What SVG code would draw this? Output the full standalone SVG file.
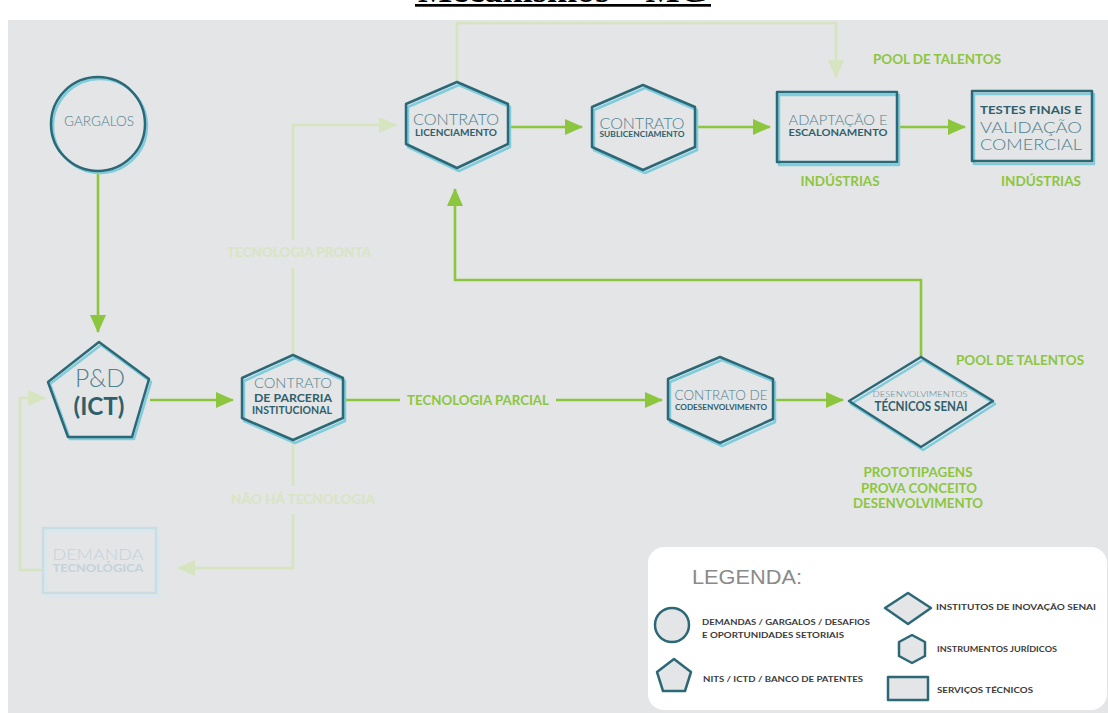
<svg xmlns="http://www.w3.org/2000/svg" width="1108" height="713" viewBox="0 0 1108 713">
<style>
.bg{fill:#e4e5e7}
.sh{fill:none;stroke:#7fcddc;stroke-width:2.5;stroke-linejoin:round}
.nd{fill:none;stroke:#2d6877;stroke-width:2.5;stroke-linejoin:round}
.fd{fill:none;stroke:#c9dde3;stroke-width:2.5}
.fds{fill:none;stroke:#d9e8ee;stroke-width:3}
.lt{font-family:Lato,"Liberation Sans",sans-serif;font-weight:300;fill:#4f818c}
.bd{font-family:Lato,"Liberation Sans",sans-serif;font-weight:700;fill:#2f5f6b}
.gr{font-family:Lato,"Liberation Sans",sans-serif;font-weight:700;fill:#8cc63f}
.gf{font-family:Lato,"Liberation Sans",sans-serif;font-weight:700;fill:#d9e4c3}
.flt{font-family:Lato,"Liberation Sans",sans-serif;font-weight:300;fill:#c3d3d9}
.fbd{font-family:Lato,"Liberation Sans",sans-serif;font-weight:700;fill:#c3d3d9}
.lg{font-family:Lato,"Liberation Sans",sans-serif;font-weight:700;fill:#3b3b3b;font-size:8px}
.c{stroke:#8cc63f;stroke-width:2.6;fill:none}
.cf{stroke:#d6e4bf;stroke-width:2.6;fill:none}
.ls{fill:#e4e5e7;stroke:#2d6877;stroke-width:2.5;stroke-linejoin:round}
</style>
<defs>
<marker id="ah" markerUnits="userSpaceOnUse" markerWidth="18" markerHeight="16" refX="17" refY="8" orient="auto">
<path d="M0,0 L18,8 L0,16 z" fill="#8cc63f"/>
</marker>
<marker id="ahf" markerUnits="userSpaceOnUse" markerWidth="18" markerHeight="16" refX="17" refY="8" orient="auto">
<path d="M0,0 L18,8 L0,16 z" fill="#d6e4bf"/>
</marker>
</defs>
<rect x="0" y="0" width="1108" height="713" fill="#ffffff"/>
<rect class="bg" x="8" y="20" width="1100" height="693"/>
<g id="title">
<text x="563" y="2" text-anchor="middle" font-family="Liberation Serif, serif" font-weight="700" font-size="34" fill="#000" textLength="290" lengthAdjust="spacingAndGlyphs">Mecanismos – MG</text>
<rect x="415" y="4" width="296" height="2.7" fill="#000"/>
</g>
<g id="connectors">
<path class="cf" d="M457,82 V23 H836 V77" marker-end="url(#ahf)"/>
<path class="cf" d="M293,355 V268 M293,240 V125 H396" marker-end="url(#ahf)"/>
<path class="cf" d="M293,440 V486 M293,514 V568 H178" marker-end="url(#ahf)"/>
<path class="cf" d="M43,570 H20 V398 H45" marker-end="url(#ahf)"/>
<path class="c" d="M98,171 V332" marker-end="url(#ah)"/>
<path class="c" d="M150,400 H233" marker-end="url(#ah)"/>
<path class="c" d="M343,400 H400"/>
<path class="c" d="M556,400 H662" marker-end="url(#ah)"/>
<path class="c" d="M773,400 H843" marker-end="url(#ah)"/>
<path class="c" d="M921,357 V280 H455 V189" marker-end="url(#ah)"/>
<path class="c" d="M508,127 H582" marker-end="url(#ah)"/>
<path class="c" d="M695,127 H770" marker-end="url(#ah)"/>
<path class="c" d="M897,127 H965" marker-end="url(#ah)"/>
</g>
<g id="labels">
<text class="gr" x="937" y="64" text-anchor="middle" font-size="14" textLength="128" lengthAdjust="spacingAndGlyphs">POOL DE TALENTOS</text>
<text class="gr" x="840" y="186" text-anchor="middle" font-size="14" textLength="79" lengthAdjust="spacingAndGlyphs">INDÚSTRIAS</text>
<text class="gr" x="1041" y="186" text-anchor="middle" font-size="14" textLength="80" lengthAdjust="spacingAndGlyphs">INDÚSTRIAS</text>
<text class="gr" x="1020" y="365" text-anchor="middle" font-size="14" textLength="128" lengthAdjust="spacingAndGlyphs">POOL DE TALENTOS</text>
<text class="gr" x="918" y="477" text-anchor="middle" font-size="14" textLength="109" lengthAdjust="spacingAndGlyphs">PROTOTIPAGENS</text>
<text class="gr" x="919" y="493" text-anchor="middle" font-size="14" textLength="116" lengthAdjust="spacingAndGlyphs">PROVA CONCEITO</text>
<text class="gr" x="918" y="508" text-anchor="middle" font-size="14" textLength="130" lengthAdjust="spacingAndGlyphs">DESENVOLVIMENTO</text>
<text class="gr" x="478" y="405" text-anchor="middle" font-size="13" textLength="142" lengthAdjust="spacingAndGlyphs">TECNOLOGIA PARCIAL</text>
<text class="gf" x="299" y="257" text-anchor="middle" font-size="13" textLength="144" lengthAdjust="spacingAndGlyphs">TECNOLOGIA PRONTA</text>
<text class="gf" x="303" y="504" text-anchor="middle" font-size="13" textLength="144" lengthAdjust="spacingAndGlyphs">NÃO HÁ TECNOLOGIA</text>
</g>
<g id="gargalos">
<circle class="sh" cx="100" cy="126" r="47"/>
<circle class="nd" cx="98" cy="124" r="47"/>
<text class="lt" x="99" y="126" text-anchor="middle" font-size="13" font-weight="400" textLength="70" lengthAdjust="spacingAndGlyphs">GARGALOS</text>
</g>
<g id="pd">
<polygon class="sh" points="101,345 151,382 134,439 70,439 50,384"/>
<polygon class="nd" points="99,342 149,379 132,437 68,437 48,382"/>
<text class="lt" x="100" y="387" text-anchor="middle" font-size="25" textLength="50" lengthAdjust="spacingAndGlyphs">P&amp;D</text>
<text class="bd" x="99" y="415" text-anchor="middle" font-size="24" textLength="51" lengthAdjust="spacingAndGlyphs">(ICT)</text>
</g>
<g id="parceria">
<polygon class="sh" points="295,358 345,381 345,421 295,443 244,421 244,381"/>
<polygon class="nd" points="293,355 343,378 343,418 293,440 242,418 242,378"/>
<text class="lt" x="293" y="388" text-anchor="middle" font-size="14" textLength="78" lengthAdjust="spacingAndGlyphs">CONTRATO</text>
<text class="bd" x="293" y="402" text-anchor="middle" font-size="12" textLength="78" lengthAdjust="spacingAndGlyphs">DE PARCERIA</text>
<text class="bd" x="292" y="414" text-anchor="middle" font-size="11" textLength="80" lengthAdjust="spacingAndGlyphs">INSTITUCIONAL</text>
</g>
<g id="licenciamento">
<polygon class="sh" points="459,85 510,107 510,147 459,171 408,147 408,107"/>
<polygon class="nd" points="457,82 508,104 508,144 457,168 406,144 406,104"/>
<text class="lt" x="456" y="125" text-anchor="middle" font-size="15" textLength="86" lengthAdjust="spacingAndGlyphs">CONTRATO</text>
<text class="bd" x="456" y="136" text-anchor="middle" font-size="9" textLength="82" lengthAdjust="spacingAndGlyphs">LICENCIAMENTO</text>
</g>
<g id="sublicenciamento">
<polygon class="sh" points="645,88 697,110 697,150 645,173 594,150 594,110"/>
<polygon class="nd" points="643,85 695,107 695,147 643,170 592,147 592,107"/>
<text class="lt" x="642" y="129" text-anchor="middle" font-size="15" textLength="85" lengthAdjust="spacingAndGlyphs">CONTRATO</text>
<text class="bd" x="642" y="137" text-anchor="middle" font-size="6.5" textLength="85" lengthAdjust="spacingAndGlyphs">SUBLICENCIAMENTO</text>
</g>
<g id="adaptacao">
<rect class="sh" x="779" y="95" width="120" height="70"/>
<rect class="nd" x="777" y="92" width="120" height="70"/>
<text class="lt" x="838" y="125" text-anchor="middle" font-size="13" textLength="99" lengthAdjust="spacingAndGlyphs">ADAPTAÇÃO E</text>
<text class="bd" x="838" y="136" text-anchor="middle" font-size="10" textLength="99" lengthAdjust="spacingAndGlyphs">ESCALONAMENTO</text>
</g>
<g id="testes">
<rect class="sh" x="974" y="94" width="120" height="70"/>
<rect class="nd" x="972" y="91" width="120" height="70"/>
<text class="bd" x="1031" y="114" text-anchor="middle" font-size="12" textLength="102" lengthAdjust="spacingAndGlyphs">TESTES FINAIS E</text>
<text class="lt" x="1031" y="133" text-anchor="middle" font-size="16" textLength="102" lengthAdjust="spacingAndGlyphs">VALIDAÇÃO</text>
<text class="lt" x="1031" y="150" text-anchor="middle" font-size="16" textLength="102" lengthAdjust="spacingAndGlyphs">COMERCIAL</text>
</g>
<g id="codesenvolvimento">
<polygon class="sh" points="722,360 775,382 775,422 722,446 670,422 670,382"/>
<polygon class="nd" points="720,357 773,379 773,419 720,443 668,419 668,379"/>
<text class="lt" x="721" y="400" text-anchor="middle" font-size="13" textLength="93" lengthAdjust="spacingAndGlyphs">CONTRATO DE</text>
<text class="bd" x="721" y="410" text-anchor="middle" font-size="7" textLength="92" lengthAdjust="spacingAndGlyphs">CODESENVOLVIMENTO</text>
</g>
<g id="desenvolvimentos">
<polygon class="sh" points="923,360 995,404 923,450 851,404"/>
<polygon class="nd" points="921,357 993,401 921,447 849,401"/>
<text class="lt" x="920" y="397" text-anchor="middle" font-size="8" textLength="95" lengthAdjust="spacingAndGlyphs">DESENVOLVIMENTOS</text>
<text class="bd" x="921" y="411" text-anchor="middle" font-size="13" textLength="93" lengthAdjust="spacingAndGlyphs">TÉCNICOS SENAI</text>
</g>
<g id="demanda">
<rect class="fds" x="46" y="531" width="113" height="65"/>
<rect class="fd" x="43" y="528" width="113" height="65"/>
<text class="flt" x="98" y="560" text-anchor="middle" font-size="16" textLength="91" lengthAdjust="spacingAndGlyphs">DEMANDA</text>
<text class="fbd" x="98" y="572" text-anchor="middle" font-size="11" textLength="91" lengthAdjust="spacingAndGlyphs">TECNOLÓGICA</text>
</g>
<g id="legenda">
<rect x="648" y="547" width="459" height="163" rx="16" fill="#ffffff"/>
<text x="692" y="584" font-family="Liberation Sans, sans-serif" font-size="20" fill="#8a8a8a" textLength="110" lengthAdjust="spacingAndGlyphs">LEGENDA:</text>
<circle class="ls" cx="672" cy="625" r="17"/>
<text class="lg" x="702" y="625" textLength="168" lengthAdjust="spacingAndGlyphs">DEMANDAS / GARGALOS / DESAFIOS</text>
<text class="lg" x="702" y="638" textLength="142" lengthAdjust="spacingAndGlyphs">E OPORTUNIDADES SETORIAIS</text>
<polygon class="ls" points="674,659 691,672 685,691 663,691 657,672"/>
<text class="lg" x="703" y="682" textLength="160" lengthAdjust="spacingAndGlyphs">NITS / ICTD / BANCO DE PATENTES</text>
<polygon class="ls" points="908,593 931,608 908,624 885,608"/>
<text class="lg" x="936" y="610" textLength="160" lengthAdjust="spacingAndGlyphs">INSTITUTOS DE INOVAÇÃO SENAI</text>
<polygon class="ls" points="912,635 925,642 925,656 912,663 899,656 899,642"/>
<text class="lg" x="937" y="652" textLength="120" lengthAdjust="spacingAndGlyphs">INSTRUMENTOS JURÍDICOS</text>
<rect class="ls" x="888" y="677" width="40" height="23"/>
<text class="lg" x="937" y="693" textLength="96" lengthAdjust="spacingAndGlyphs">SERVIÇOS TÉCNICOS</text>
</g>
</svg>
